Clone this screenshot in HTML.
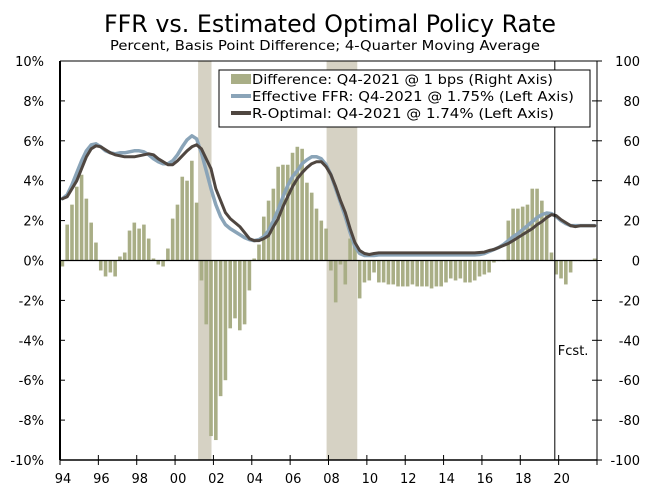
<!DOCTYPE html>
<html><head><meta charset="utf-8"><style>
html,body{margin:0;padding:0;background:#fff;}
svg{display:block;font-family:"DejaVu Sans","Liberation Sans",sans-serif;}
</style></head><body>
<svg id="chart" width="660" height="492" viewBox="0 0 660 492" xmlns="http://www.w3.org/2000/svg">
<text x="330" y="32" text-anchor="middle" font-size="24" textLength="452" lengthAdjust="spacingAndGlyphs" fill="#000">FFR vs. Estimated Optimal Policy Rate</text>
<text x="325" y="50" text-anchor="middle" font-size="13" textLength="430" lengthAdjust="spacingAndGlyphs" fill="#000">Percent, Basis Point Difference; 4-Quarter Moving Average</text>
<g id="shade"></g>
<g id="bars"></g>
<g id="lines"></g>
<g id="axes"></g>
<g>
<rect x="219" y="70" width="371" height="57" fill="#fff" stroke="#000" stroke-width="1"/>
<rect x="231" y="74" width="20" height="10" fill="#a9ae86"/>
<text x="252" y="84" font-size="13" textLength="301" lengthAdjust="spacingAndGlyphs">Difference: Q4-2021 @ 1 bps (Right Axis)</text>
<line x1="231" y1="96" x2="251" y2="96" stroke="#8aa4b8" stroke-width="4"/>
<text x="252" y="101" font-size="13" textLength="322" lengthAdjust="spacingAndGlyphs">Effective FFR: Q4-2021 @ 1.75% (Left Axis)</text>
<line x1="231" y1="113" x2="251" y2="113" stroke="#4f4640" stroke-width="4"/>
<text x="252" y="118" font-size="13" textLength="302" lengthAdjust="spacingAndGlyphs">R-Optimal: Q4-2021 @ 1.74% (Left Axis)</text>
</g>
</svg>
<script>
const startYear = 1994;
const diffBps = [-3,18,28,37,43,31,19,9,-5,-8,-6,-8,2,4,15,19,16,18,11,1,-2,-3,6,21,28,42,40,50,29,-10,-32,-88,-90,-68,-60,-34,-29,-35,-32,-15,
1,8,22,30,36,47,48,48,54,57,56,39,34,26,20,16,-5,-21,-2,-12,11,7,-19,-11,-10,-6,-11,-11,-12,-12,-13,-13,-13,-12,-13,-13,-13,-14,-13,-13,-11,-9,-10,-9,-11,-11,-10,-8,-7,-6,-1,0,
0,20,26,26,27,28,36,36,30,24,4,-7,-9,-12,-6,0,0,0,0,1];
const effr = [3.1,3.3,3.8,4.4,5.0,5.5,5.8,5.85,5.7,5.5,5.4,5.35,5.4,5.4,5.45,5.5,5.5,5.45,5.3,5.1,4.95,4.85,4.85,5.0,5.3,5.7,6.05,6.25,6.1,5.4,4.5,3.6,2.8,2.2,1.8,1.6,1.45,1.3,1.15,1.05,
1.0,1.05,1.2,1.5,2.0,2.55,3.2,3.75,4.2,4.5,4.85,5.05,5.2,5.2,5.1,4.8,4.3,3.6,2.9,2.2,1.4,0.7,0.35,0.25,
0.25,0.25,0.28,0.28,0.28,0.28,0.28,0.28,0.28,0.28,0.28,0.28,0.28,0.28,0.28,0.28,0.28,0.28,0.28,0.28,0.28,0.28,0.28,0.3,
0.35,0.45,0.55,0.65,0.8,1.0,1.2,1.35,1.55,1.75,1.95,2.15,2.3,2.38,2.35,2.2,2.0,1.85,1.75,1.75,1.75,1.75,1.75,1.75];
const roptimal = [3.1,3.2,3.6,4.0,4.6,5.2,5.6,5.75,5.7,5.55,5.4,5.3,5.25,5.2,5.2,5.2,5.25,5.3,5.35,5.3,5.1,4.95,4.8,4.8,5.0,5.25,5.5,5.7,5.8,5.6,5.1,4.6,3.6,3.0,2.4,2.1,1.9,1.7,1.4,1.1,
1.0,1.0,1.1,1.25,1.7,2.1,2.7,3.2,3.7,4.1,4.4,4.65,4.85,4.95,4.95,4.7,4.3,3.7,3.0,2.4,1.6,0.9,0.5,0.35,
0.3,0.35,0.38,0.38,0.38,0.38,0.38,0.38,0.38,0.38,0.38,0.38,0.38,0.38,0.38,0.38,0.38,0.38,0.38,0.38,0.38,0.38,0.38,0.4,
0.42,0.5,0.55,0.65,0.75,0.85,1.0,1.15,1.3,1.45,1.6,1.8,1.95,2.15,2.3,2.25,2.05,1.9,1.75,1.7,1.74,1.74,1.74,1.74];
const recessionStart = [2001.2, 2007.9];
const recessionEnd = [2001.9, 2009.5];
const forecastStart = 2019.8;
const leftTicks = [10,8,6,4,2,0,-2,-4,-6,-8,-10];
const rightTicks = [100,80,60,40,20,0,-20,-40,-60,-80,-100];
const xTickYears = [1994,1996,1998,2000,2002,2004,2006,2008,2010,2012,2014,2016,2018,2020,2022];
const xTickLabels = ["94","96","98","00","02","04","06","08","10","12","14","16","18","20",""];

const NS = "http://www.w3.org/2000/svg";
const L = 60, R = 597, T = 61, B = 460;
const xYear = y => L + (y - 1994) / 28 * (R - L);
const xQ = i => xYear(startYear + (i + 0.5) / 4);
const yPct = v => T + (10 - v) / 20 * (B - T);
const yBps = v => T + (100 - v) / 200 * (B - T);
function mk(tag, attrs, parent) {
  const e = document.createElementNS(NS, tag);
  for (const k in attrs) e.setAttribute(k, attrs[k]);
  parent.appendChild(e);
  return e;
}
const gS = document.getElementById('shade'), gB = document.getElementById('bars'),
      gL = document.getElementById('lines'), gA = document.getElementById('axes');
recessionStart.forEach((s, k) => {
  const r = mk('rect', {x: xYear(s), y: T, width: xYear(recessionEnd[k]) - xYear(s), height: B - T, fill: '#d6d2c4'}, gS);
  
  
});
diffBps.forEach((v, i) => {
  const y0 = yBps(0), y1 = yBps(v);
  const r = mk('rect', {x: xQ(i) - 1.8, y: Math.min(y0, y1), width: 3.6, height: Math.max(0.6, Math.abs(y1 - y0)), fill: '#a9ae86'}, gB);
  
  
});
function line(arr, color, w, name) {
  const d = arr.map((v, i) => (i ? 'L' : 'M') + xQ(i).toFixed(1) + ' ' + yPct(v).toFixed(1)).join(' ');
  const p = mk('path', {d: d, fill: 'none', stroke: color, 'stroke-width': w, 'stroke-linejoin': 'round', 'stroke-linecap': 'round'}, gL);
  
  
}
line(effr, '#8aa4b8', 3.5, 'effective-ffr-line');
line(roptimal, '#4f4640', 3, 'r-optimal-line');
// zero line
let z = mk('line', {x1: L, x2: R, y1: yPct(0), y2: yPct(0), stroke: '#000', 'stroke-width': 1.2}, gA);


// forecast
let fx = xYear(forecastStart);
let f = mk('line', {x1: fx, x2: fx, y1: T, y2: B, stroke: '#000', 'stroke-width': 1}, gA);


let ft = mk('text', {x: fx + 3, y: 355, 'font-size': 13}, gA);
ft.textContent = 'Fcst.';


// frame
let a1 = mk('line', {x1: L, x2: L, y1: T, y2: B, stroke: '#000', 'stroke-width': 2}, gA);


let a2 = mk('line', {x1: R, x2: R, y1: T, y2: B, stroke: '#000', 'stroke-width': 1}, gA);


let a3 = mk('line', {x1: L, x2: R, y1: B, y2: B, stroke: '#000', 'stroke-width': 1.5}, gA);


let a4 = mk('line', {x1: L, x2: R, y1: T, y2: T, stroke: '#000', 'stroke-width': 1}, gA);


leftTicks.forEach(v => {
  const y = yPct(v);
  mk('line', {x1: L, x2: L + 5, y1: y, y2: y, stroke: '#000', 'stroke-width': 1}, gA);
  const t = mk('text', {x: 44, y: y + 5, 'text-anchor': 'end', 'font-size': 13}, gA);
  t.textContent = v + '%';
  
  
});
rightTicks.forEach(v => {
  const y = yBps(v);
  mk('line', {x1: R - 5, x2: R + 5, y1: y, y2: y, stroke: '#000', 'stroke-width': 1}, gA);
  const t = mk('text', {x: 640, y: y + 5, 'text-anchor': 'end', 'font-size': 13}, gA);
  t.textContent = v;
  
  
});
xTickYears.forEach((yr, k) => {
  const x = xYear(yr);
  mk('line', {x1: x, x2: x, y1: B - 5, y2: B + 5, stroke: '#000', 'stroke-width': 1}, gA);
  const t = mk('text', {x: x + 3, y: 483, 'text-anchor': 'middle', 'font-size': 13}, gA);
  t.textContent = xTickLabels[k];
  
  
});
</script>
</body></html>
